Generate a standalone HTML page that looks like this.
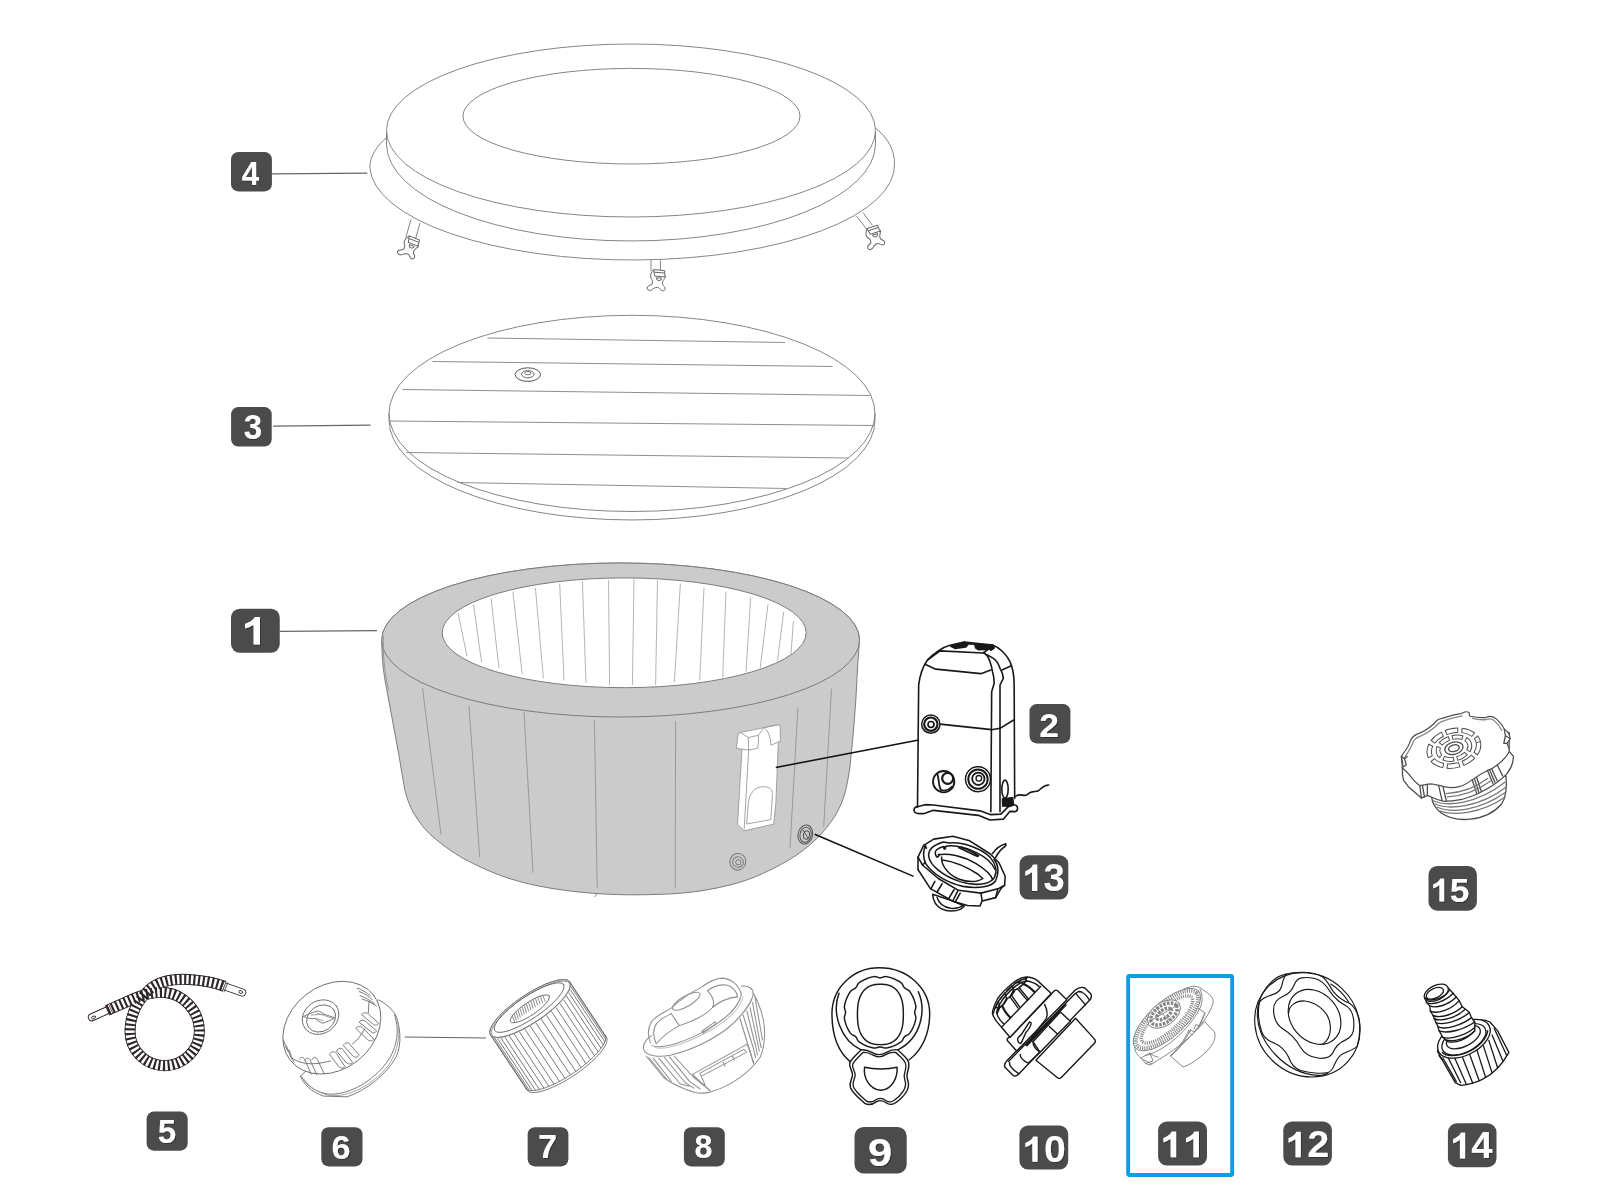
<!DOCTYPE html><html><head><meta charset="utf-8"><title>Spa parts</title><style>html,body{margin:0;padding:0;background:#fff}svg{display:block;will-change:transform}text{font-family:"Liberation Sans",sans-serif;font-weight:bold}</style></head><body><svg width="1600" height="1200" viewBox="0 0 1600 1200"><defs><filter id="ds" x="-20%" y="-20%" width="150%" height="150%"><feOffset in="SourceAlpha" dx="0.5" dy="0.9" result="o"/><feFlood flood-color="#303030"/><feComposite in2="o" operator="in" result="sh"/><feMerge><feMergeNode in="sh"/><feMergeNode in="SourceGraphic"/></feMerge></filter></defs><rect width="1600" height="1200" fill="#fff"/><g fill="none" stroke="#858585" stroke-width="1"><path d="M387,137 C377,146 370,156 369.8,167 A262.4,95 0 0 0 894.5,163 C894.5,150 888,138 875.5,128"/><ellipse cx="631" cy="130.5" rx="244.5" ry="86.5" fill="#fff"/><path d="M386.5,131 L386.5,144 A244.5,97 0 0 0 875.5,144 L875.5,131"/><ellipse cx="631.5" cy="116.2" rx="168.5" ry="47.8"/></g>
<g fill="none" stroke="#858585" stroke-width="1"><ellipse cx="632" cy="413.4" rx="243" ry="98.1"/><path d="M389,413 L389,420 A243,100 0 0 0 875,420 L875,413"/><path d="M487.5,338 L785,342.5 M432.5,361.5 L832.5,366.5 M402.5,389.5 L870,395.5 M390,421 L874,425.5 M406.5,452.5 L848.5,458 M457.5,482.5 L786.5,488.5" stroke="#8f8f8f"/><ellipse cx="527.8" cy="374.6" rx="12.7" ry="6.8" stroke="#555"/><ellipse cx="527.8" cy="374.2" rx="6.3" ry="3.6" stroke="#666"/><ellipse cx="527.8" cy="373.2" rx="3.2" ry="1.6" stroke="#777"/></g>
<g fill="none" stroke="#7c7c7c" stroke-width="1"><path d="M381.7,640 C381.7,662 385,682 386.9,690 L399,755.6 C401,768 403,779 404.7,789.4 C407,799 410,806 413,812 C419,822 425,830 432,836 C441,844 452,852 463.8,858.8 C476,865 488,871 501,875.6 C513,880 526,883.5 538.8,886 C556,889.5 575,892 595,893.4 C610,894.5 625,895 640,894.8 C654,894.6 667,894.2 680,893.3 C697,892 714,889 730,885 C742,882 753,878 763.3,873.3 C775,868 786,862 796.7,855 C806,848.5 815,841 823.3,831.7 C828,826 833,819.5 836.7,813 C840,807 843,800 845,793 C847,785 848.7,776 850,766.7 L853.3,733 L855.8,700 L858,660.6 L859.6,640 A238.9,77 0 0 0 381.7,640 Z" fill="#cbcbcb"/><ellipse cx="620.6" cy="640" rx="238.9" ry="77" fill="#cbcbcb"/><ellipse cx="624.2" cy="632.8" rx="182" ry="54.9" fill="#fff"/></g>
<path d="M458,612.8 L467,656 M473.5,604.4 L481.6,662.5 M491,598.4 L499,668 M512.9,591.6 L522.2,674 M535.4,588 L543.4,678.4 M559.7,583.7 L564,680.3 M582.4,581.5 L586,682.7 M608.5,580.4 L609.6,685.4 M634,579.6 L632.4,685 M657.5,580.5 L655.6,685 M680.4,583.5 L674.4,682 M704,587.5 L699.7,680.3 M726,591.6 L722.7,677.5 M750.7,597.8 L746,671.9 M768,604.4 L760.2,668 M783.7,611.9 L777.5,660.6 M793.4,621.2 L791,654" fill="none" stroke="#b4b4b4" stroke-width="1"/>
<path d="M422.5,688 L441,834.4 M469,706 L479.7,857 M524,712 L533,872.8 M594.4,720 L597.2,887.8 M675.6,721.5 L675.2,888.5 M797.9,707.5 L790,848.3 M831.5,688.7 L823.7,826.7" fill="none" stroke="#999" stroke-width="1"/>
<path d="M597.2,893.6 L594.5,897" fill="none" stroke="#888" stroke-width="1"/>
<path d="M383.6,636 C382.5,650 384,670 388.5,690" fill="none" stroke="#8a8a8a" stroke-width=".8"/>
<g transform="translate(680 700) scale(0.166667)" fill="none" stroke="#9a9a9a" stroke-width="5.400" stroke-linecap="round" stroke-linejoin="round" ><path d="M350,205 L362,195 L580,150 L598,150 L601,165 L603,245 L590,255 L575,620 L562,745 L385,785 L345,745 L372,295 L340,290 Z" fill="#fff"/><path d="M362,195 L410,225 L412,300 L385,775"/><path d="M410,225 L470,212 C472,240 470,268 465,290 L412,300"/><path d="M470,212 L505,165 L580,150 M505,165 C530,185 545,225 545,272 L600,248"/><path d="M400,742 L410,620 C415,560 450,520 500,520 C535,520 555,535 555,565 L545,715 Z"/><path d="M372,295 L412,300"/></g>
<g fill="none" stroke="#777" stroke-width="1"><ellipse cx="737.8" cy="861.7" rx="8" ry="8.3" transform="rotate(20 737.8 861.7)"/><ellipse cx="738" cy="862" rx="5.4" ry="5.2" transform="rotate(20 738 862)"/><circle cx="738.3" cy="862.3" r="2.6"/></g>
<g fill="none" stroke="#555" stroke-width="1"><ellipse cx="805.3" cy="834.5" rx="7.3" ry="9.6" transform="rotate(12 805.3 834.5)"/><ellipse cx="805.6" cy="834.8" rx="5.6" ry="7.6" transform="rotate(12 805.6 834.8)"/><ellipse cx="806.5" cy="835" rx="3" ry="4.2" transform="rotate(12 806.5 835)"/><path d="M803,830 L808,838"/></g>
<path d="M651,260.3 L651,271 M660.4,260.3 L660.4,270" stroke="#858585" fill="none"/>
<g transform="translate(659.2 269.6)"><g fill="none" stroke="#666" stroke-width="1"><path d="M-5.5,0 L5.5,1 L5.7,7.3 L-4.5,6.5 Z M-5,2.6 L5.5,3.4"/><path d="M-2.8,8.2 A2.6,2.6 0 0 0 2.4,8.6 Z"/><path d="M-5.5,0 C-8.2,3 -9.2,6 -8.3,8.5 C-6.5,10.5 -6.3,13 -7.3,15 C-9,15.6 -12,16 -12,18.5 C-12,21.3 -8.3,21.3 -6.5,19.6 C-5,18 -2,17.4 -0.8,18 C0.6,18.6 1.6,21.2 3.6,21.2 C6.2,21.2 6.6,18 4.6,16.5 C2.6,15 3,12 4.6,10 C5.6,8.7 6.4,7.8 6.4,6.4"/></g></g>
<path d="M411,219.5 L405.8,237.5 M420,223 L415.5,239" stroke="#858585" fill="none"/>
<g transform="translate(414.5 237.5) rotate(17)"><g fill="none" stroke="#666" stroke-width="1"><path d="M-5.5,0 L5.5,1 L5.7,7.3 L-4.5,6.5 Z M-5,2.6 L5.5,3.4"/><path d="M-2.8,8.2 A2.6,2.6 0 0 0 2.4,8.6 Z"/><path d="M-5.5,0 C-8.2,3 -9.2,6 -8.3,8.5 C-6.5,10.5 -6.3,13 -7.3,15 C-9,15.6 -12,16 -12,18.5 C-12,21.3 -8.3,21.3 -6.5,19.6 C-5,18 -2,17.4 -0.8,18 C0.6,18.6 1.6,21.2 3.6,21.2 C6.2,21.2 6.6,18 4.6,16.5 C2.6,15 3,12 4.6,10 C5.6,8.7 6.4,7.8 6.4,6.4"/></g></g>
<path d="M856.5,216 L866.5,229 M863,212.5 L872.5,225.5" stroke="#858585" fill="none"/>
<g transform="translate(872 226.5) rotate(-22)"><g fill="none" stroke="#666" stroke-width="1"><path d="M-5.5,0 L5.5,1 L5.7,7.3 L-4.5,6.5 Z M-5,2.6 L5.5,3.4"/><path d="M-2.8,8.2 A2.6,2.6 0 0 0 2.4,8.6 Z"/><path d="M-5.5,0 C-8.2,3 -9.2,6 -8.3,8.5 C-6.5,10.5 -6.3,13 -7.3,15 C-9,15.6 -12,16 -12,18.5 C-12,21.3 -8.3,21.3 -6.5,19.6 C-5,18 -2,17.4 -0.8,18 C0.6,18.6 1.6,21.2 3.6,21.2 C6.2,21.2 6.6,18 4.6,16.5 C2.6,15 3,12 4.6,10 C5.6,8.7 6.4,7.8 6.4,6.4"/></g></g>
<g transform="translate(900 630) scale(0.166667)" fill="none" stroke="#1a1718" stroke-width="9.600" stroke-linecap="round" stroke-linejoin="round" ><path d="M105,1060 L112,330 C118,280 140,215 165,180 C195,145 250,105 300,92 L385,72 L555,90 C600,105 640,150 660,190 C678,230 685,280 685,330 L688,1010" fill="#fff"/><path d="M545,1090 L550,370 L565,320 C565,290 560,265 555,250 C548,210 535,170 520,150 L500,135"/><path d="M600,1090 L600,330 L620,290 C618,260 610,245 600,230 C590,200 575,180 560,170 L525,150"/><path d="M165,180 L240,125 L500,138 L555,95"/><path d="M150,205 L215,235 L485,262 L545,240 M612,240 L668,215"/><path d="M240,565 L550,598 L600,590 L682,540"/><path d="M105,1060 L150,1048 L200,1050 L480,1085 L545,1108 L605,1105 L650,1060 L688,1048"/><path d="M105,1060 C90,1062 82,1072 85,1085 C88,1100 100,1105 150,1100 L200,1082 L470,1112 L540,1140 L620,1135 L660,1088 L690,1090 C712,1086 708,1058 695,1052"/><path d="M690,1000 C720,975 740,1000 760,990 C790,960 810,975 830,965 C850,950 860,930 892,930"/><ellipse cx="630" cy="955" rx="19" ry="54"/><path d="M305,97 L385,76 L410,82 L395,102 L330,110 Z M450,92 L545,90 L560,100 L548,115 L470,118 L455,108 Z" fill="#1a1718"/><path d="M385,72 L395,82 L560,92 L565,108 L545,122" /><path d="M610,1010 L680,1000 L686,1050 L655,1062 L612,1060 Z" fill="#1a1718" stroke="none"/><circle cx="185" cy="565" r="55" fill="#fff" stroke-width="9"/><circle cx="185" cy="565" r="40" stroke-width="13"/><circle cx="186" cy="567" r="18" stroke-width="10"/><circle cx="262" cy="910" r="64" fill="#fff" stroke-width="11"/><circle cx="286" cy="890" r="33" fill="#fff" stroke-width="13"/><path d="M224,864 C236,895 228,930 246,960" stroke-width="11"/><path d="M310,940 C290,960 265,966 244,960" stroke-width="9"/><circle cx="468" cy="895" r="75" fill="#fff" stroke-width="9" stroke-dasharray="13 6"/><circle cx="468" cy="895" r="58" stroke-width="12"/><circle cx="470" cy="893" r="37" stroke-width="11"/><circle cx="473" cy="890" r="17" stroke-width="8"/></g>
<g transform="translate(900 820) scale(0.112499)" fill="none" stroke="#1a1718" stroke-width="13.778" stroke-linecap="round" stroke-linejoin="round" ><path d="M290,660 C295,720 320,765 370,790 C420,815 490,815 540,792 L572,765 L470,720 Z" fill="#fff"/><path d="M330,690 C345,740 390,775 450,785 C500,790 540,775 560,760"/><path d="M160,440 L270,610 L470,722 L600,760 L710,765 L730,720 L850,690 L900,605" fill="#fff"/><path d="M160,330 L210,225 L300,170 L470,145 L620,185 L800,300 L880,380 L935,500 L930,580 L870,612 L720,650 L520,625 L340,520 L200,400 Z" fill="#fff"/><path d="M160,330 L160,440 M720,650 L730,720 M870,612 L850,690 M930,580 L900,605"/><path d="M310,545 L275,612 M375,565 L330,640 M480,620 L435,695 M515,628 L468,722 M535,650 L490,730"/><path d="M230,230 C200,270 205,340 230,390 C290,480 420,560 560,590 C700,615 820,590 850,540 C880,480 880,400 835,350"/><path d="M210,225 L235,250 M200,400 L225,375"/><path d="M385,195 C300,220 250,260 255,320 C262,400 380,500 540,550 C680,590 800,575 840,510 C870,450 850,390 800,330 C730,260 560,190 440,205 Z"/><path d="M395,240 C440,215 560,230 680,290 C760,330 820,380 845,440"/><path d="M330,330 C310,310 305,280 330,262 C350,245 375,240 390,235 M330,330 C345,325 350,312 345,305"/><circle cx="397" cy="250" r="9"/><path d="M340,310 C420,290 560,320 680,390 C760,440 810,490 825,530"/><path d="M370,330 C365,400 420,480 520,525 C600,555 690,555 735,520"/><path d="M380,355 C480,370 600,420 690,480 L735,520"/><path d="M520,245 C580,275 640,300 690,325 M545,240 C600,262 660,290 700,318"/><path d="M820,300 C850,260 890,225 940,212 C945,225 940,232 930,238 C895,260 870,295 850,335"/></g>
<g transform="translate(1390 700) scale(0.108342)" fill="none" stroke="#4e4e4e" stroke-width="11.999" stroke-linecap="round" stroke-linejoin="round" ><path d="M385,900 C390,960 420,1000 470,1040 C540,1090 640,1110 740,1100 C850,1090 960,1040 1030,960 C1070,900 1080,800 1070,700 L400,800 Z" fill="#fff"/><path d="M400,930 C520,985 800,965 1060,760 M415,960 C540,1015 820,995 1070,805 M435,990 C560,1045 830,1025 1070,850 M465,1025 C585,1070 840,1050 1062,895" stroke="#777"/><path d="M115,620 L115,690 L125,740 L170,800 L250,870 L290,905 L345,880 L380,895 C420,915 460,930 500,935 C550,935 600,930 650,920 C700,910 750,890 800,870 C860,840 910,815 960,780 C1010,745 1050,715 1080,680 C1110,640 1130,600 1135,560 L1140,520 L1100,475 L1100,300 L105,520 Z" fill="#fff"/><path d="M105,520 C130,480 165,440 180,400 C190,360 215,330 250,315 C300,300 360,260 410,215 C425,190 450,175 480,170 C540,150 610,130 660,125 C680,110 710,105 730,115 C735,130 725,140 740,150 C790,160 850,165 890,160 C920,145 950,150 975,170 C1010,200 1040,235 1055,270 C1090,290 1105,320 1110,355 C1100,375 1085,385 1080,400 C1090,430 1105,450 1100,475 C1080,520 1040,560 990,600 C960,625 930,640 900,650 C860,670 810,700 760,735 C720,765 680,790 640,800 C600,810 540,810 500,800 C460,790 420,780 380,775 C340,775 300,790 275,790 C240,770 200,720 170,680 C150,660 125,640 115,620 C125,590 110,560 105,520 Z" fill="#fff" stroke-width="11"/><path d="M135,530 C160,490 190,450 205,410 C215,375 240,350 270,338 C320,320 380,280 430,235 C445,212 465,200 495,192 C555,172 615,152 665,148 M760,170 C800,180 850,185 890,180 C915,170 940,172 960,188 C990,215 1015,245 1030,280" stroke="#888"/><path d="M275,790 L290,905 M345,780 L345,880 M300,790 L318,895 M450,795 L480,925 M490,805 L520,930 M760,740 L800,862 M800,715 L842,842 M780,728 L820,852 M900,650 L950,770 M940,640 L990,745 M990,600 L1040,700 M920,645 L968,758"/><path d="M520,865 C650,855 790,810 900,725 M530,895 C660,885 810,835 925,750" stroke="#777"/><path d="M1055,270 L1065,330 L1110,355 M1065,330 L1050,400 L1080,400 M105,520 L135,545 L150,600 L115,620 M135,545 L160,520"/><ellipse cx="590" cy="445" rx="232" ry="160" transform="rotate(-15 590 445)" stroke="#4e4e4e" stroke-width="50" stroke-dasharray="120 28" stroke-dashoffset="0" stroke-linecap="butt"/><ellipse cx="590" cy="445" rx="232" ry="160" transform="rotate(-15 590 445)" stroke="#fff" stroke-width="32" stroke-dasharray="102 46" stroke-dashoffset="-9" stroke-linecap="butt"/><ellipse cx="590" cy="445" rx="150" ry="100" transform="rotate(-15 590 445)" stroke="#4e4e4e" stroke-width="44" stroke-dasharray="100 26" stroke-dashoffset="30" stroke-linecap="butt"/><ellipse cx="590" cy="445" rx="150" ry="100" transform="rotate(-15 590 445)" stroke="#fff" stroke-width="26" stroke-dasharray="82 44" stroke-dashoffset="21" stroke-linecap="butt"/><ellipse cx="590" cy="445" rx="86" ry="56" transform="rotate(-15 590 445)"/><ellipse cx="590" cy="445" rx="50" ry="30" transform="rotate(-15 590 445)" stroke-width="13"/></g>
<g transform="translate(70 950) scale(0.125000)" fill="none" stroke="#2d2528" stroke-width="8.000" stroke-linecap="round" stroke-linejoin="round" ><path d="M300,482 L175,538" stroke-width="64" /><path d="M300,482 L175,538" stroke="#fff" stroke-width="50"/><path d="M1235,290 L1378,340" stroke-width="64" /><path d="M1235,290 L1378,340" stroke="#fff" stroke-width="50"/><ellipse cx="188" cy="540" rx="16" ry="11" transform="rotate(-25 188 540)" stroke-width="7"/><ellipse cx="1366" cy="336" rx="16" ry="11" transform="rotate(20 1366 336)" stroke-width="7"/><path d="M300,482 L520,385 C600,350 700,335 757,340 C900,350 1035,480 1035,650 C1035,800 910,925 757,925 C600,925 480,800 480,650 C480,500 560,385 640,312 C720,245 850,230 950,236 C1050,242 1150,258 1235,290" stroke-width="88" stroke-linecap="butt"/><path d="M300,482 L520,385 C600,350 700,335 757,340 C900,350 1035,480 1035,650 C1035,800 910,925 757,925 C600,925 480,800 480,650 C480,500 560,385 640,312 C720,245 850,230 950,236 C1050,242 1150,258 1235,290" stroke="#fff" stroke-width="74" stroke-linecap="butt"/><path d="M300,482 L520,385 C600,350 700,335 757,340 C900,350 1035,480 1035,650 C1035,800 910,925 757,925 C600,925 480,800 480,650 C480,500 560,385 640,312 C720,245 850,230 950,236 C1050,242 1150,258 1235,290" stroke-width="84" stroke-dasharray="17 20" stroke-linecap="butt"/><path d="M285,452 L318,520 M298,446 L331,514 M311,440 L344,508" stroke-width="6"/><path d="M1262,262 L1232,335 M1248,257 L1218,330 M1234,252 L1204,325" stroke-width="6"/></g>
<g transform="translate(270 960) scale(0.137495)" fill="none" stroke="#6c6c6c" stroke-width="6.546" stroke-linecap="round" stroke-linejoin="round" ><path d="M222,845 C240,900 300,960 390,990 L560,995 C700,950 850,830 920,700 C960,610 950,470 905,385 C870,340 830,310 790,290 L222,845 Z" fill="#fff"/><path d="M232,850 C260,910 330,960 420,975 C560,985 720,900 830,770 C920,660 950,520 905,400"/><path d="M250,870 C290,930 350,965 430,985 C580,1000 740,910 850,780 C935,670 960,520 915,400" stroke="#999"/><ellipse cx="450" cy="492" rx="385" ry="305" transform="rotate(-38 450 492)" fill="#fff"/><path d="M160,715 C250,770 330,760 440,735 M600,610 C640,580 660,550 690,500 M720,300 L715,385"/><path d="M215,720 C225,700 245,705 255,730 L300,830 M255,730 C262,705 285,708 295,735 L340,835 M305,725 C315,700 340,705 350,735 L395,828"/><path d="M435,685 C445,660 475,660 490,690 L545,775 C535,790 515,790 500,775 Z M485,660 C495,635 525,635 540,665 L600,745 C590,760 570,760 555,745 Z M535,620 C545,595 575,595 590,625 L648,690 C640,710 620,712 605,700 Z"/><path d="M625,495 C640,478 665,480 680,500 L755,575 C745,592 725,592 710,580 Z M650,450 C665,432 690,435 705,455 L775,515 C768,532 748,534 735,522 Z M668,395 C683,378 708,380 723,400 L790,460 C783,477 763,479 750,467 Z"/><path d="M635,205 C670,215 700,235 730,260 M650,230 C685,240 715,262 745,290 M655,260 C690,270 725,292 760,318 M670,285 C700,292 740,310 775,335"/><path d="M100,585 C110,620 115,640 130,665 M120,625 C135,660 140,690 160,720 M140,655 C150,690 160,715 175,745"/><ellipse cx="368" cy="415" rx="140" ry="118" transform="rotate(-35 368 415)"/><ellipse cx="372" cy="425" rx="112" ry="92" transform="rotate(-35 372 425)"/><path d="M245,410 C280,395 310,380 345,370 C365,372 380,385 395,395 L470,420 C440,440 410,450 385,460 C365,455 345,440 330,425 C300,430 270,425 245,410 Z"/><path d="M300,400 L395,395 M330,425 L385,440 M340,385 L470,430" stroke="#999"/></g>
<g transform="translate(470 960) scale(0.125000)" fill="none" stroke="#636363" stroke-width="6.800" stroke-linecap="round" stroke-linejoin="round" ><path d="M164.6,600.5 L160.7,592.5 L158.7,583.3 L158.8,572.9 L160.8,561.3 L164.9,548.7 L170.9,535.1 L178.8,520.6 L188.6,505.2 L200.2,489.1 L213.5,472.5 L228.5,455.2 L245.0,437.6 L263.0,419.7 L282.4,401.5 L303.0,383.3 L324.7,365.2 L347.3,347.1 L370.8,329.3 L395.0,311.9 L419.7,294.9 L444.8,278.5 L470.1,262.8 L495.5,247.9 L520.8,233.8 L545.9,220.7 L570.6,208.6 L594.7,197.6 L618.2,187.8 L640.8,179.2 L662.4,171.9 L682.9,166.0 L702.2,161.4 L720.1,158.2 L736.6,156.4 L751.4,156.1 L764.6,157.1 L776.1,159.6 L785.8,163.6 L793.6,168.8 L799.4,175.5 L1090.4,615.5 L1094.3,623.5 L1096.3,632.7 L1096.2,643.1 L1094.2,654.7 L1090.1,667.3 L1084.1,680.9 L1076.2,695.4 L1066.4,710.8 L1054.8,726.9 L1041.5,743.5 L1026.5,760.8 L1010.0,778.4 L992.0,796.3 L972.6,814.5 L952.0,832.7 L930.3,850.8 L907.7,868.9 L884.2,886.7 L860.0,904.1 L835.3,921.1 L810.2,937.5 L784.9,953.2 L759.5,968.1 L734.2,982.2 L709.1,995.3 L684.4,1007.4 L660.3,1018.4 L636.8,1028.2 L614.2,1036.8 L592.6,1044.1 L572.1,1050.0 L552.8,1054.6 L534.9,1057.8 L518.4,1059.6 L503.6,1059.9 L490.4,1058.9 L478.9,1056.4 L469.2,1052.4 L461.4,1047.2 L455.6,1040.5 Z" fill="#fff"/><path d="M1080.3,600.1 L1084.2,608.1 L1086.1,617.3 L1086.0,627.7 L1084.0,639.3 L1079.9,651.9 L1073.9,665.5 L1066.0,680.0 L1056.2,695.4 L1044.7,711.5 L1031.3,728.1 L1016.4,745.4 L999.8,763.0 L981.8,780.9 L962.4,799.1 L941.9,817.3 L920.2,835.4 L897.5,853.5 L874.0,871.3 L849.8,888.7 L825.1,905.7 L800.0,922.1 L774.7,937.8 L749.3,952.7 L724.0,966.8 L698.9,979.9 L674.2,992.0 L650.1,1003.0 L626.6,1012.8 L604.0,1021.4 L582.4,1028.7 L561.9,1034.6 L542.6,1039.2 L524.7,1042.4 L508.3,1044.2 L493.4,1044.5 L480.2,1043.5 L468.7,1041.0 L459.0,1037.0 L451.2,1031.8 L445.4,1025.1"/><path d="M810.8,198.9 L1084.3,612.5"/><path d="M810.3,217.3 L1083.8,630.9"/><path d="M803.8,239.0 L1077.3,652.6"/><path d="M791.4,263.6 L1065.0,677.2"/><path d="M773.4,290.7 L1046.9,704.3"/><path d="M750.0,319.8 L1023.6,733.4"/><path d="M721.8,350.3 L995.3,763.9"/><path d="M689.2,381.7 L962.7,795.3"/><path d="M652.8,413.3 L926.4,826.9"/><path d="M613.4,444.7 L886.9,858.3"/><path d="M571.6,475.2 L845.2,888.8"/><path d="M528.3,504.2 L801.9,917.8"/><path d="M484.2,531.2 L757.8,944.8"/><path d="M440.2,555.7 L713.8,969.3"/><path d="M397.1,577.2 L670.6,990.8"/><path d="M355.7,595.4 L629.2,1009.0"/><path d="M316.7,609.9 L590.2,1023.5"/><path d="M280.9,620.4 L554.4,1034.0"/><path d="M249.0,626.7 L522.5,1040.3"/><path d="M221.5,628.8 L495.0,1042.4"/><path d="M199.0,626.5 L472.5,1040.1"/><path d="M181.8,620.0 L455.4,1033.6"/><ellipse cx="482" cy="388" rx="382" ry="112" transform="rotate(-33.8 482 388)" fill="#fff"/><ellipse cx="486" cy="394" rx="374" ry="108" transform="rotate(-33.8 486 394)" stroke="#888"/><ellipse cx="474" cy="380" rx="332" ry="90" transform="rotate(-33.8 474 380)"/><ellipse cx="479" cy="390" rx="186" ry="52" transform="rotate(-33.8 479 390)"/><path d="M340.2,450.5 L356.7,493.4" stroke="#777"/><path d="M354.5,434.1 L371.0,480.7" stroke="#777"/><path d="M369.6,418.9 L386.1,468.4" stroke="#777"/><path d="M385.3,404.7 L401.8,456.2" stroke="#777"/><path d="M401.5,391.1 L418.0,444.1" stroke="#777"/><path d="M418.1,378.1 L434.6,432.2" stroke="#777"/><path d="M435.0,365.7 L451.5,420.4" stroke="#777"/><path d="M452.3,353.7 L468.8,408.6" stroke="#777"/><path d="M469.9,342.2 L486.4,397.0" stroke="#777"/><path d="M487.8,331.2 L504.3,385.4" stroke="#777"/><path d="M506.0,320.7 L522.5,374.0" stroke="#777"/><path d="M524.7,310.8 L541.2,362.6" stroke="#777"/><path d="M543.7,301.6 L560.2,351.4" stroke="#777"/><path d="M563.4,293.1 L579.9,340.4" stroke="#777"/><path d="M583.8,285.9 L600.3,329.6" stroke="#777"/></g>
<g transform="translate(630 960) scale(0.125000)" fill="none" stroke="#8f8f8f" stroke-width="8.400" stroke-linecap="round" stroke-linejoin="round" ><path d="M130,770 L270,940 C330,990 450,1040 520,1060 C600,1075 640,1055 660,1050 C800,1010 960,900 1040,780 C1080,700 1085,560 1065,470 C1050,400 1010,300 985,265"/><path d="M108,715 C100,660 150,615 175,605 M890,210 C950,200 990,230 985,275 C975,340 900,440 800,530 C700,615 520,715 330,760 C230,780 130,770 108,715"/><path d="M175,685 C260,720 480,640 640,545 C780,460 880,360 890,275"/><path d="M200,700 C290,725 490,650 650,560 C790,475 890,380 905,290" stroke="#c4c4c4"/><path d="M165,665 C140,610 140,540 175,490 C215,440 290,410 330,385 C380,340 480,260 560,225 C600,195 680,145 740,145 C810,150 870,200 890,270"/><path d="M210,670 C180,610 185,540 215,505 C250,465 300,445 330,430 M620,245 C660,215 720,195 770,200 C820,210 855,250 860,295"/><path d="M330,430 L395,525 C500,490 600,450 660,380 C680,340 670,300 620,245"/><ellipse cx="450" cy="330" rx="125" ry="42" transform="rotate(-30 450 330)"/><path d="M215,665 C270,600 330,560 395,525 M660,380 C720,330 800,300 860,295"/><path d="M575,570 L680,495 L690,510 L585,585 Z"/><path d="M150,780 L290,950 M185,785 L330,970 M230,785 L400,990 L470,1010 M275,780 L440,980 L510,1025 M315,775 L480,975 L560,1030 M355,770 L500,930 L640,1045"/><path d="M880,470 L990,830 M905,440 L985,700 L1005,780 M935,410 L1005,690 L1020,760 M960,380 L1025,680 L1035,730 M980,340 L1040,660 L1050,700 M1000,300 L1060,640"/><path d="M500,915 L935,675 L950,700 L990,830 M500,915 L640,1045 M560,905 L910,715 L935,740 M560,905 L600,1000 M580,925 L920,745 M745,820 L760,850 M820,770 L835,800"/></g>
<g transform="translate(810 950) scale(0.141643)" fill="none" stroke="#1a1718" stroke-width="10.237" stroke-linecap="round" stroke-linejoin="round" ><path d="M285,790 C200,720 155,600 155,450 C155,270 300,125 490,125 C690,125 845,270 845,450 C845,590 790,710 700,775"/><path d="M205,305 C150,450 220,640 360,705 M765,295 C820,420 790,620 620,705"/><path d="M738.8,440.0 L739.5,446.4 L741.3,452.9 L743.7,459.6 L745.8,466.4 L747.1,473.2 L747.3,480.0 L746.5,486.6 L745.2,493.2 L743.7,499.7 L742.1,506.2 L740.3,512.7 L738.3,519.0 L736.1,525.4 L733.8,531.7 L731.3,537.9 L728.7,544.0 L725.9,550.1 L722.9,556.1 L719.8,562.1 L716.5,567.9 L713.1,573.7 L709.5,579.3 L705.8,584.9 L701.7,590.1 L696.7,594.8 L691.0,598.7 L684.7,602.0 L678.3,605.0 L672.4,608.4 L667.4,612.4 L663.4,617.4 L660.0,623.3 L657.0,629.7 L653.7,636.0 L649.8,641.7 L645.1,646.7 L639.9,650.8 L634.3,654.5 L628.7,658.1 L622.9,661.5 L617.1,664.8 L611.1,667.9 L605.1,670.9 L599.0,673.7 L592.9,676.3 L586.7,678.8 L580.4,681.1 L574.0,683.3 L567.7,685.3 L561.2,687.1 L554.7,688.7 L548.2,690.2 L541.6,691.5 L535.0,692.3 L528.2,692.1 L521.4,690.8 L514.6,688.7 L507.9,686.3 L501.4,684.5 L495.0,683.8 L488.6,684.5 L482.1,686.3 L475.4,688.7 L468.6,690.8 L461.8,692.1 L455.0,692.3 L448.4,691.5 L441.8,690.2 L435.3,688.7 L428.8,687.1 L422.3,685.3 L416.0,683.3 L409.6,681.1 L403.3,678.8 L397.1,676.3 L391.0,673.7 L384.9,670.9 L378.9,667.9 L372.9,664.8 L367.1,661.5 L361.3,658.1 L355.7,654.5 L350.1,650.8 L344.9,646.7 L340.2,641.7 L336.3,636.0 L333.0,629.7 L330.0,623.3 L326.6,617.4 L322.6,612.4 L317.6,608.4 L311.7,605.0 L305.3,602.0 L299.0,598.7 L293.3,594.8 L288.3,590.1 L284.2,584.9 L280.5,579.3 L276.9,573.7 L273.5,567.9 L270.2,562.1 L267.1,556.1 L264.1,550.1 L261.3,544.0 L258.7,537.9 L256.2,531.7 L253.9,525.4 L251.7,519.0 L249.7,512.7 L247.9,506.2 L246.3,499.7 L244.8,493.2 L243.5,486.6 L242.7,480.0 L242.9,473.2 L244.2,466.4 L246.3,459.6 L248.7,452.9 L250.5,446.4 L251.2,440.0 L250.5,433.6 L248.7,427.1 L246.3,420.4 L244.2,413.6 L242.9,406.8 L242.7,400.0 L243.5,393.4 L244.8,386.8 L246.3,380.3 L247.9,373.8 L249.7,367.3 L251.7,361.0 L253.9,354.6 L256.2,348.3 L258.7,342.1 L261.3,336.0 L264.1,329.9 L267.1,323.9 L270.2,317.9 L273.5,312.1 L276.9,306.3 L280.5,300.7 L284.2,295.1 L288.3,289.9 L293.3,285.2 L299.0,281.3 L305.3,278.0 L311.7,275.0 L317.6,271.6 L322.6,267.6 L326.6,262.6 L330.0,256.7 L333.0,250.3 L336.3,244.0 L340.2,238.3 L344.9,233.3 L350.1,229.2 L355.7,225.5 L361.3,221.9 L367.1,218.5 L372.9,215.2 L378.9,212.1 L384.9,209.1 L391.0,206.3 L397.1,203.7 L403.3,201.2 L409.6,198.9 L416.0,196.7 L422.3,194.7 L428.8,192.9 L435.3,191.3 L441.8,189.8 L448.4,188.5 L455.0,187.7 L461.8,187.9 L468.6,189.2 L475.4,191.3 L482.1,193.7 L488.6,195.5 L495.0,196.2 L501.4,195.5 L507.9,193.7 L514.6,191.3 L521.4,189.2 L528.2,187.9 L535.0,187.7 L541.6,188.5 L548.2,189.8 L554.7,191.3 L561.2,192.9 L567.7,194.7 L574.0,196.7 L580.4,198.9 L586.7,201.2 L592.9,203.7 L599.0,206.3 L605.1,209.1 L611.1,212.1 L617.1,215.2 L622.9,218.5 L628.7,221.9 L634.3,225.5 L639.9,229.2 L645.1,233.3 L649.8,238.3 L653.7,244.0 L657.0,250.3 L660.0,256.7 L663.4,262.6 L667.4,267.6 L672.4,271.6 L678.3,275.0 L684.7,278.0 L691.0,281.3 L696.7,285.2 L701.7,289.9 L705.8,295.1 L709.5,300.7 L713.1,306.3 L716.5,312.1 L719.8,317.9 L722.9,323.9 L725.9,329.9 L728.7,336.0 L731.3,342.1 L733.8,348.3 L736.1,354.6 L738.3,361.0 L740.3,367.3 L742.1,373.8 L743.7,380.3 L745.2,386.8 L746.5,393.4 L747.3,400.0 L747.1,406.8 L745.8,413.6 L743.7,420.4 L741.3,427.1 L739.5,433.6 L738.8,440.0 Z"/><path d="M659.0,455.0 L658.8,475.1 L658.3,490.0 L657.4,503.3 L656.2,515.6 L654.6,527.2 L652.6,538.2 L650.3,548.7 L647.7,558.7 L644.7,568.2 L641.4,577.3 L637.7,586.0 L633.7,594.2 L629.4,602.1 L624.8,609.5 L619.8,616.4 L614.5,623.0 L608.8,629.1 L602.9,634.8 L596.6,640.0 L590.0,644.8 L583.1,649.2 L575.9,653.1 L568.3,656.6 L560.3,659.6 L551.9,662.2 L543.1,664.3 L533.7,665.9 L523.6,667.1 L512.3,667.8 L497.0,668.0 L481.7,667.8 L470.4,667.1 L460.3,665.9 L450.9,664.3 L442.1,662.2 L433.7,659.6 L425.7,656.6 L418.1,653.1 L410.9,649.2 L404.0,644.8 L397.4,640.0 L391.1,634.8 L385.2,629.1 L379.5,623.0 L374.2,616.4 L369.2,609.5 L364.6,602.1 L360.3,594.2 L356.3,586.0 L352.6,577.3 L349.3,568.2 L346.3,558.7 L343.7,548.7 L341.4,538.2 L339.4,527.2 L337.8,515.6 L336.6,503.3 L335.7,490.0 L335.2,475.1 L335.0,455.0 L335.2,434.9 L335.7,420.0 L336.6,406.7 L337.8,394.4 L339.4,382.8 L341.4,371.8 L343.7,361.3 L346.3,351.3 L349.3,341.8 L352.6,332.7 L356.3,324.0 L360.3,315.8 L364.6,307.9 L369.2,300.5 L374.2,293.6 L379.5,287.0 L385.2,280.9 L391.1,275.2 L397.4,270.0 L404.0,265.2 L410.9,260.8 L418.1,256.9 L425.7,253.4 L433.7,250.4 L442.1,247.8 L450.9,245.7 L460.3,244.1 L470.4,242.9 L481.7,242.2 L497.0,242.0 L512.3,242.2 L523.6,242.9 L533.7,244.1 L543.1,245.7 L551.9,247.8 L560.3,250.4 L568.3,253.4 L575.9,256.9 L583.1,260.8 L590.0,265.2 L596.6,270.0 L602.9,275.2 L608.8,280.9 L614.5,287.0 L619.8,293.6 L624.8,300.5 L629.4,307.9 L633.7,315.8 L637.7,324.0 L641.4,332.7 L644.7,341.8 L647.7,351.3 L650.3,361.3 L652.6,371.8 L654.6,382.8 L656.2,394.4 L657.4,406.7 L658.3,420.0 L658.8,434.9 L659.0,455.0 Z"/><path d="M360,705 C330,740 290,770 280,800 C275,830 300,850 300,880 C300,910 275,930 285,970 C300,1010 350,1050 390,1085 C420,1100 450,1085 470,1070 C490,1060 520,1065 540,1080 C560,1095 590,1090 610,1075 C650,1045 690,1000 695,960 C700,930 680,910 685,880 C690,850 705,820 695,790 C680,750 640,730 620,705 C590,700 560,710 540,722 C510,740 480,745 450,730 C420,715 400,700 360,705 Z"/><path d="M360,705 C330,740 290,770 280,800 C275,830 300,850 300,880 C300,910 275,930 285,970 C300,1010 350,1050 390,1085 C420,1100 450,1085 470,1070 C490,1060 520,1065 540,1080 C560,1095 590,1090 610,1075 C650,1045 690,1000 695,960 C700,930 680,910 685,880 C690,850 705,820 695,790 C680,750 640,730 620,705 C590,700 560,710 540,722 C510,740 480,745 450,730 C420,715 400,700 360,705 Z" transform="translate(489 900) scale(0.9 0.905) translate(-489 -900)"/><path d="M385,828 C450,845 550,845 615,828 C620,900 580,985 500,990 C420,985 375,900 385,828 Z"/></g>
<g transform="translate(970 960) scale(0.116645)" fill="none" stroke="#1a1718" stroke-width="12.002" stroke-linecap="round" stroke-linejoin="round" ><path d="M905,500 L1060,670 C1080,690 1080,700 1065,715 L785,1005 C770,1020 760,1020 745,1005 L565,860 Z" fill="#fff"/><path d="M300,920 C290,900 300,880 320,860 L900,260 C930,235 960,230 985,240 L1035,290 C1045,310 1040,330 1025,345 L420,975 C400,995 385,1000 370,990 Z" fill="#fff"/><path d="M340,880 C335,900 345,925 420,975 M330,870 L900,290 C920,270 940,265 960,275 M480,728 L815,378 M488,736 L823,386 M910,290 L990,385 M930,270 C960,270 1000,300 1025,345"/><path d="M775,445 L860,525 L600,790 L540,700 Z" fill="#fff"/><path d="M680,570 L750,635 M540,700 C540,740 570,770 600,790 M430,810 C430,840 470,870 500,885 L600,790"/><path d="M320,690 C315,675 325,665 345,660 L700,290 L725,262 C735,255 745,258 755,268 L830,340 L400,780 Z" fill="#fff"/><path d="M410,690 C400,670 420,655 440,640 L510,530 L525,540 C520,580 500,600 480,620 L440,710 C425,720 415,710 410,690 Z"/><path d="M640,380 C660,420 665,470 655,500 L530,660"/></g>
<g transform="translate(985 970) scale(0.062500)" fill="none" stroke="#1a1718" stroke-width="22.400" stroke-linecap="round" stroke-linejoin="round" ><path d="M255,905 C200,850 140,770 120,700 C115,640 140,580 200,460 C260,370 380,260 480,180 C540,140 600,115 660,113 C740,115 800,140 840,170 L1060,375 L400,1075 Z" fill="#fff"/><path d="M270,910 L890,265"/><path d="M300,862 C250,820 200,740 190,690 C185,650 205,600 240,540 C290,450 400,330 500,250 C560,205 620,180 660,175 C740,180 810,215 865,262"/><path d="M135,690 C150,610 220,480 300,390 C370,320 440,250 500,200 C560,160 620,140 665,135" /><path d="M615,225 C680,250 740,300 790,350 M275,570 C300,640 350,710 405,760" stroke-width="34"/><path d="M520,300 L680,490 M545,280 L700,470 M400,430 L530,610 M425,405 L555,590"/><path d="M660,170 L620,222 L545,282 M520,300 L455,330 L400,430 M425,405 L470,340 M400,430 L345,462 L280,565 M300,545 L350,470 M280,565 L235,600 L195,690 M215,610 L185,600 M655,140 L665,172" stroke-width="26"/><path d="M470,215 L560,190 M350,330 L440,250 M240,470 L320,370 M165,610 L215,500" stroke-width="22"/><path d="M560,190 L620,222 M440,250 L455,330 M320,370 L345,462 M215,500 L235,600"/></g>
<g transform="translate(1120 965) scale(0.100000)" fill="none" stroke="#7a7a7a" stroke-width="9.000" stroke-linecap="round" stroke-linejoin="round" ><path d="M850,570 L945,670 C965,730 930,800 860,870 C800,930 700,1000 630,1020 L510,915 Z" fill="#fff"/><path d="M640,240 C720,200 790,205 830,250 C900,290 940,330 930,380 C900,500 760,680 600,800 C500,880 400,940 300,1000 L255,985 L210,930 C170,900 140,860 150,800 Z" fill="#fff"/><path d="M800,240 C830,300 830,380 790,450 C730,560 620,690 500,780 C420,840 330,890 250,905"/><path d="M760,420 L850,480 L790,610 L740,670 L705,650 M790,610 L760,595 L740,640 M700,660 C690,680 700,690 720,700 M850,480 C830,540 810,580 790,610"/><path d="M210,930 L300,880 L330,960 L255,985 M300,880 C320,900 345,915 380,920 M230,945 L320,990"/><path d="M500,910 C560,860 640,760 690,650 M520,900 C580,850 650,760 705,650"/><ellipse cx="470" cy="545" rx="425" ry="175" transform="rotate(-42 470 545)" fill="#fff"/><ellipse cx="470" cy="545" rx="395" ry="150" transform="rotate(-42 470 545)" stroke="#8a8a8a" stroke-width="38" stroke-dasharray="11 11" stroke-dashoffset="0" stroke-linecap="butt"/><ellipse cx="470" cy="545" rx="330" ry="112" transform="rotate(-42 470 545)" stroke="#8a8a8a" stroke-width="34" stroke-dasharray="11 11" stroke-dashoffset="5" stroke-linecap="butt"/><ellipse cx="440" cy="490" rx="185" ry="115" transform="rotate(-35 440 490)" fill="#fff"/><ellipse cx="440" cy="490" rx="150" ry="85" transform="rotate(-35 440 490)" stroke="#858585" stroke-width="34" stroke-dasharray="26 12" stroke-dashoffset="0" stroke-linecap="butt"/><ellipse cx="440" cy="490" rx="85" ry="40" transform="rotate(-35 440 490)" stroke="#858585" stroke-width="34" stroke-dasharray="26 12" stroke-dashoffset="8" stroke-linecap="butt"/><path d="M300,560 L580,400 M360,430 L500,560"/></g>
<g transform="translate(1240 960) scale(0.108342)" fill="none" stroke="#1a1718" stroke-width="10.614" stroke-linecap="round" stroke-linejoin="round" ><ellipse cx="622" cy="598" rx="505" ry="462" transform="rotate(42 622 598)"/><path d="M432,128 C300,150 160,310 160,500 C160,760 420,1050 720,1065 C760,1066 790,1060 810,1045"/><path d="M430,130 C400,160 395,200 385,240 C370,290 340,310 300,320 C250,335 200,350 180,390 C160,470 170,580 200,660 C220,720 260,745 300,760 C360,785 420,830 450,900 C470,960 500,1000 560,1020 C640,1045 750,1050 810,1040 C850,1030 855,1000 870,970 C890,930 900,890 950,865 C1000,840 1050,825 1080,800 C1100,740 1110,640 1100,560 C1085,480 1060,430 1010,400 C960,380 900,340 860,290 C830,250 810,190 760,155 C700,120 600,110 520,115 C480,118 450,120 430,130 Z"/><path d="M570,165 C530,170 510,200 495,240 C475,290 440,320 390,340 C340,360 310,400 310,460 C310,540 340,600 400,640 C460,675 520,740 555,800 C590,860 640,895 720,905 C790,915 830,900 855,860 C880,800 920,760 980,735 C1030,710 1050,680 1050,620 C1055,540 1040,470 990,430 C930,400 870,350 830,290 C790,220 740,180 680,168 C640,160 600,160 570,165 Z"/><path d="M838,222 C900,260 960,320 1005,390"/><ellipse cx="688" cy="525" rx="275" ry="218" transform="rotate(50 688 525)"/><path d="M450,487 C450,420 520,372 600,378 C720,390 835,500 835,620 C835,690 810,745 765,775"/></g>
<g transform="translate(1400 970) scale(0.108342)" fill="none" stroke="#1a1718" stroke-width="11.999" stroke-linecap="round" stroke-linejoin="round" ><path d="M345,750 L390,830 L510,1040 L560,1065 C620,1060 700,1040 760,1010 C860,960 940,880 1005,760 L900,560 L830,480 C780,455 720,460 690,470 Z" fill="#fff"/><path d="M390,830 L360,790 M395,810 L520,1030 M440,800 L560,1040 M500,800 L610,1050 M570,790 L670,1040 M640,770 L730,1020 M710,740 L790,990 M770,700 L850,950 M820,650 L900,900 M850,600 L950,840 M870,540 L985,790"/><ellipse cx="590" cy="635" rx="262" ry="150" transform="rotate(-27 590 635)" fill="#fff"/><ellipse cx="590" cy="640" rx="220" ry="118" transform="rotate(-27 590 640)"/><path d="M390,760 C420,800 520,800 620,760 C720,715 800,640 810,560"/><ellipse cx="585" cy="620" rx="170" ry="85" transform="rotate(-27 585 620)" fill="#fff"/><path d="M225,250 L245,300 L275,330 L280,380 L305,420 L330,480 L350,520 L360,560 L395,620 L440,660 C520,680 620,640 690,560 L690,480 L660,440 L640,390 L575,340 L545,280 L490,215 L445,165 Z" fill="#fff"/><path d="M245,300 C300,330 420,290 490,215 M275,330 C330,360 450,320 520,250 M280,380 C340,410 470,370 545,285 M305,420 C370,450 500,410 575,340 M315,450 C380,480 520,440 600,365 M330,485 C400,515 550,470 640,392 M350,525 C420,555 570,510 660,440 M360,562 C440,592 590,550 690,480 M395,622 C470,645 610,600 690,530 M420,645 C500,670 620,630 690,562" stroke-width="13"/><ellipse cx="335" cy="210" rx="118" ry="68" transform="rotate(-25 335 210)" fill="#fff"/><ellipse cx="322" cy="215" rx="85" ry="45" transform="rotate(-25 322 215)"/><path d="M232,255 C260,300 400,270 455,190"/></g>
<g stroke="#666" stroke-width="1.2" fill="none"><line x1="272" y1="173.8" x2="367.2" y2="173.1"/><line x1="273" y1="426.2" x2="370.5" y2="425.2"/><line x1="279.5" y1="631.4" x2="377" y2="630.6"/><line x1="404.7" y1="1037" x2="486" y2="1038"/></g>
<g stroke="#111" stroke-width="1.55" fill="none"><line x1="775.8" y1="767.5" x2="918.7" y2="740"/><line x1="814.7" y1="834.2" x2="913.6" y2="876.4"/></g>
<rect x="1128.15" y="975.95" width="104" height="199" rx="1.5" fill="none" stroke="#0e9de2" stroke-width="3.9"/>
<rect x="231.00" y="152.10" width="40.90" height="39.40" rx="7.3" fill="#4b4b4b"/><g transform="translate(241.78 185.00) scale(0.9566 1)" fill="#fff" filter="url(#ds)"><text x="0.00" y="0" font-size="32.73">4</text></g>
<rect x="231.10" y="407.05" width="40.60" height="39.50" rx="7.3" fill="#4b4b4b"/><g transform="translate(243.65 438.57) scale(0.9611 1)" fill="#fff" filter="url(#ds)"><text x="0.00" y="0" font-size="34.51">3</text></g>
<rect x="231.00" y="608.75" width="48.75" height="44.00" rx="8.8" fill="#4b4b4b"/><g transform="translate(241.23 644.40) scale(1.1943 1)" fill="#fff" filter="url(#ds)"><path transform="translate(0.00 0) scale(40.000)" d="M0.393,0 H0.256 V-0.4943 Q0.181,-0.4274 0.079,-0.3949 V-0.5144 Q0.133,-0.5307 0.196,-0.5785 Q0.259,-0.6253 0.282,-0.6875 H0.393 Z"/></g>
<rect x="1029.50" y="704.00" width="40.90" height="39.40" rx="7.3" fill="#4b4b4b"/><g transform="translate(1039.36 736.70) scale(1.0557 1)" fill="#fff" filter="url(#ds)"><text x="0.00" y="0" font-size="33.55">2</text></g>
<rect x="1019.60" y="855.20" width="48.70" height="44.30" rx="8.8" fill="#4b4b4b"/><g transform="translate(1022.28 891.12) scale(0.9902 1)" fill="#fff" filter="url(#ds)"><path transform="translate(0.00 0) scale(38.592)" d="M0.393,0 H0.256 V-0.4943 Q0.181,-0.4274 0.079,-0.3949 V-0.5144 Q0.133,-0.5307 0.196,-0.5785 Q0.259,-0.6253 0.282,-0.6875 H0.393 Z"/><text x="21.46" y="0" font-size="38.59">3</text></g>
<rect x="1428.50" y="866.00" width="48.40" height="44.70" rx="8.8" fill="#4b4b4b"/><g transform="translate(1430.32 901.57) scale(1.0520 1)" fill="#fff" filter="url(#ds)"><path transform="translate(0.00 0) scale(33.405)" d="M0.393,0 H0.256 V-0.4943 Q0.181,-0.4274 0.079,-0.3949 V-0.5144 Q0.133,-0.5307 0.196,-0.5785 Q0.259,-0.6253 0.282,-0.6875 H0.393 Z"/><text x="18.57" y="0" font-size="33.41">5</text></g>
<rect x="146.60" y="1111.50" width="41.10" height="39.20" rx="7.3" fill="#4b4b4b"/><g transform="translate(157.72 1142.97) scale(1.0047 1)" fill="#fff" filter="url(#ds)"><text x="0.00" y="0" font-size="32.97">5</text></g>
<rect x="321.30" y="1127.20" width="41.20" height="39.20" rx="7.3" fill="#4b4b4b"/><g transform="translate(331.42 1158.67) scale(1.0519 1)" fill="#fff" filter="url(#ds)"><text x="0.00" y="0" font-size="32.51">6</text></g>
<rect x="527.65" y="1127.20" width="40.75" height="39.20" rx="7.3" fill="#4b4b4b"/><g transform="translate(538.04 1158.10) scale(1.0375 1)" fill="#fff" filter="url(#ds)"><text x="0.00" y="0" font-size="33.02">7</text></g>
<rect x="683.90" y="1127.20" width="40.90" height="39.20" rx="7.3" fill="#4b4b4b"/><g transform="translate(694.45 1158.46) scale(0.9597 1)" fill="#fff" filter="url(#ds)"><text x="0.00" y="0" font-size="33.64">8</text></g>
<rect x="854.50" y="1126.90" width="52.20" height="46.50" rx="9.2" fill="#4b4b4b"/><g transform="translate(867.66 1166.11) scale(1.1137 1)" fill="#fff" filter="url(#ds)"><text x="0.00" y="0" font-size="39.43">9</text></g>
<rect x="1019.40" y="1125.40" width="48.80" height="44.10" rx="8.8" fill="#4b4b4b"/><g transform="translate(1022.21 1161.73) scale(1.0643 1)" fill="#fff" filter="url(#ds)"><path transform="translate(0.00 0) scale(36.749)" d="M0.393,0 H0.256 V-0.4943 Q0.181,-0.4274 0.079,-0.3949 V-0.5144 Q0.133,-0.5307 0.196,-0.5785 Q0.259,-0.6253 0.282,-0.6875 H0.393 Z"/><text x="20.43" y="0" font-size="36.75">0</text></g>
<rect x="1158.10" y="1121.40" width="48.90" height="44.20" rx="8.8" fill="#4b4b4b"/><g transform="translate(1160.07 1157.30) scale(1.0862 1)" fill="#fff" filter="url(#ds)"><path transform="translate(0.00 0) scale(37.673)" d="M0.393,0 H0.256 V-0.4943 Q0.181,-0.4274 0.079,-0.3949 V-0.5144 Q0.133,-0.5307 0.196,-0.5785 Q0.259,-0.6253 0.282,-0.6875 H0.393 Z"/><path transform="translate(20.95 0) scale(37.673)" d="M0.393,0 H0.256 V-0.4943 Q0.181,-0.4274 0.079,-0.3949 V-0.5144 Q0.133,-0.5307 0.196,-0.5785 Q0.259,-0.6253 0.282,-0.6875 H0.393 Z"/></g>
<rect x="1283.30" y="1121.40" width="48.60" height="44.20" rx="8.8" fill="#4b4b4b"/><g transform="translate(1285.28 1157.30) scale(1.0642 1)" fill="#fff" filter="url(#ds)"><path transform="translate(0.00 0) scale(37.133)" d="M0.393,0 H0.256 V-0.4943 Q0.181,-0.4274 0.079,-0.3949 V-0.5144 Q0.133,-0.5307 0.196,-0.5785 Q0.259,-0.6253 0.282,-0.6875 H0.393 Z"/><text x="20.65" y="0" font-size="37.13">2</text></g>
<rect x="1447.90" y="1123.30" width="48.60" height="43.90" rx="8.8" fill="#4b4b4b"/><g transform="translate(1450.08 1158.40) scale(1.0158 1)" fill="#fff" filter="url(#ds)"><path transform="translate(0.00 0) scale(37.673)" d="M0.393,0 H0.256 V-0.4943 Q0.181,-0.4274 0.079,-0.3949 V-0.5144 Q0.133,-0.5307 0.196,-0.5785 Q0.259,-0.6253 0.282,-0.6875 H0.393 Z"/><text x="20.95" y="0" font-size="37.67">4</text></g></svg></body></html>
